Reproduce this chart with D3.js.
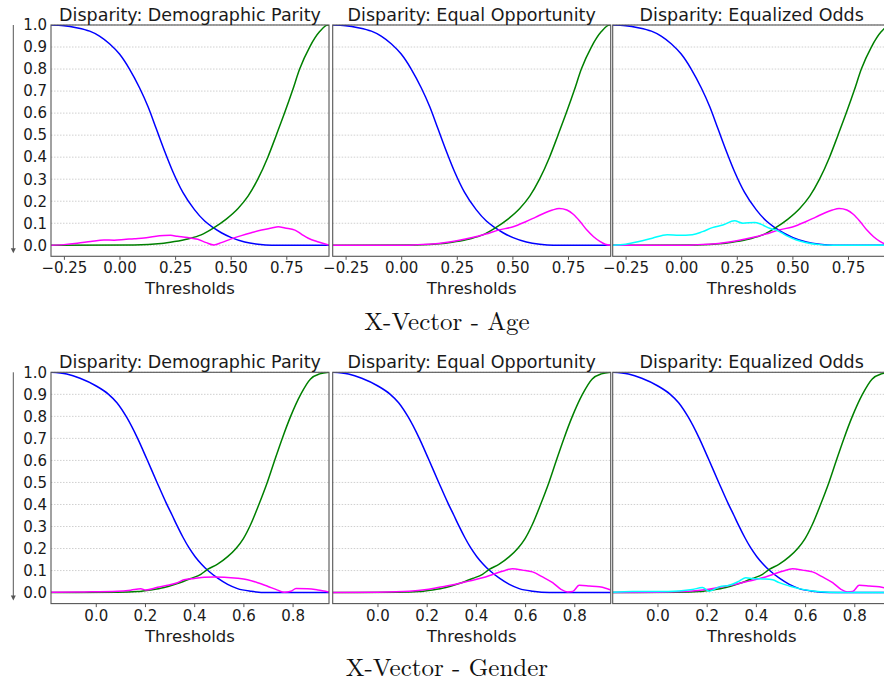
<!DOCTYPE html>
<html>
<head>
<meta charset="utf-8">
<script src="https://cdn.jsdelivr.net/npm/d3@7"></script>
<style>
  body { margin: 0; background: #fff; }
  svg { display: block; font-family: "DejaVu Sans", sans-serif; }
</style>
</head>
<body>
<div id="chart"></div>
<script>
// Panel titles and captions
var titles = ["Disparity: Demographic Parity", "Disparity: Equal Opportunity", "Disparity: Equalized Odds"];
var captions = ["X-Vector - Age", "X-Vector - Gender"];
var yTicks = [0, 0.1, 0.2, 0.3, 0.4, 0.5, 0.6, 0.7, 0.8, 0.9, 1.0];
var ageTicks = [-0.25, 0, 0.25, 0.5, 0.75];
var genderTicks = [0, 0.2, 0.4, 0.6, 0.8];

// Age: [threshold, value]
var ageBlue = [[-0.308,1.0],[-0.25,0.997],[-0.194,0.988],[-0.134,0.972],[-0.09,0.95],[-0.045,0.915],[0.0,0.868],
  [0.045,0.8],[0.09,0.715],[0.128,0.63],[0.165,0.53],[0.203,0.427],[0.24,0.334],[0.285,0.24],[0.337,0.162],
  [0.383,0.11],[0.42,0.081],[0.458,0.057],[0.503,0.035],[0.563,0.015],[0.623,0.0045],[0.684,0.0],[0.942,0.0]];
var ageGreen = [[-0.308,0],[0.066,0.0015],[0.187,0.008],[0.247,0.017],[0.307,0.029],[0.367,0.047],[0.42,0.077],
  [0.48,0.119],[0.533,0.167],[0.578,0.223],[0.622,0.3],[0.667,0.4],[0.705,0.5],[0.742,0.6],[0.777,0.7],
  [0.81,0.8],[0.855,0.9],[0.9,0.97],[0.937,1.0],[0.942,1.0]];
var ageDP = [[-0.308,0],[-0.25,0.003],[-0.19,0.009],[-0.13,0.017],[-0.07,0.024],[-0.024,0.023],[0.02,0.026],
  [0.066,0.03],[0.11,0.033],[0.157,0.04],[0.2,0.044],[0.23,0.045],[0.26,0.041],[0.307,0.035],[0.352,0.027],
  [0.39,0.012],[0.425,0.0015],[0.458,0.012],[0.503,0.029],[0.548,0.044],[0.593,0.057],[0.639,0.069],
  [0.684,0.078],[0.714,0.084],[0.744,0.078],[0.789,0.069],[0.819,0.05],[0.849,0.032],[0.895,0.015],[0.94,0.0015]];
var ageEO = [[-0.308,0],[0.0,0],[0.075,0.003],[0.14,0.006],[0.2,0.013],[0.25,0.021],[0.32,0.035],[0.38,0.051],
  [0.44,0.07],[0.5,0.083],[0.56,0.107],[0.605,0.128],[0.65,0.149],[0.68,0.16],[0.71,0.167],[0.745,0.16],
  [0.775,0.14],[0.805,0.107],[0.835,0.069],[0.865,0.039],[0.895,0.017],[0.917,0.005],[0.942,0.0]];
var ageEOdds = [[-0.308,0],[-0.25,0.005],[-0.19,0.017],[-0.13,0.032],[-0.063,0.048],[-0.01,0.045],[0.05,0.048],
  [0.096,0.062],[0.14,0.08],[0.187,0.092],[0.24,0.111],[0.277,0.1],[0.33,0.104],[0.36,0.095],[0.398,0.077],
  [0.428,0.069],[0.473,0.044],[0.518,0.024],[0.563,0.012],[0.623,0.003],[0.684,0],[0.942,0]];

// Gender
var genderBlue = [[-0.182,1.0],[-0.118,0.992],[-0.064,0.973],[0.0,0.939],[0.052,0.9],[0.086,0.862],[0.126,0.795],
  [0.17,0.7],[0.208,0.605],[0.249,0.5],[0.287,0.405],[0.31,0.352],[0.33,0.305],[0.355,0.25],[0.378,0.205],
  [0.404,0.163],[0.429,0.13],[0.456,0.1],[0.497,0.064],[0.536,0.037],[0.576,0.018],[0.631,0.006],[0.698,0.0],[0.948,0.0]];
var genderGreen = [[-0.182,0],[0.088,0.0015],[0.17,0.0045],[0.224,0.012],[0.278,0.023],[0.332,0.041],[0.386,0.064],
  [0.427,0.083],[0.454,0.105],[0.495,0.129],[0.536,0.163],[0.57,0.2],[0.6,0.245],[0.63,0.31],[0.663,0.4],
  [0.697,0.5],[0.727,0.6],[0.758,0.7],[0.792,0.8],[0.833,0.9],[0.873,0.97],[0.91,0.993],[0.948,1.0]];
var genderDP = [[-0.182,0.0015],[-0.047,0.003],[0.088,0.006],[0.142,0.011],[0.183,0.017],[0.203,0.012],[0.251,0.024],
  [0.292,0.033],[0.332,0.045],[0.359,0.058],[0.4,0.064],[0.441,0.07],[0.481,0.071],[0.522,0.07],[0.576,0.065],
  [0.617,0.058],[0.658,0.045],[0.698,0.029],[0.739,0.011],[0.766,0.0015],[0.793,0.006],[0.814,0.018],
  [0.861,0.017],[0.902,0.012],[0.948,0.003]];
var genderEO = [[-0.182,0],[0.0,0.0015],[0.129,0.006],[0.2,0.014],[0.265,0.027],[0.318,0.038],[0.372,0.052],
  [0.427,0.067],[0.468,0.082],[0.508,0.097],[0.549,0.108],[0.59,0.102],[0.63,0.094],[0.671,0.071],[0.712,0.045],
  [0.746,0.015],[0.773,0.003],[0.793,0.0045],[0.82,0.033],[0.861,0.03],[0.902,0.026],[0.924,0.021],[0.948,0.012]];
var genderEOdds = [[-0.182,0.0015],[-0.102,0.0045],[0.0,0.0045],[0.088,0.0075],[0.142,0.014],[0.183,0.023],
  [0.21,0.006],[0.251,0.026],[0.292,0.033],[0.332,0.052],[0.359,0.067],[0.386,0.064],[0.427,0.062],[0.468,0.058],
  [0.495,0.045],[0.536,0.03],[0.576,0.018],[0.631,0.0075],[0.698,0.0015],[0.766,0],[0.948,0]];

var rows = [
  {caption: captions[0], top: 25, domain: [-0.308, 0.942], ticks: ageTicks, fmt: d3.format(".2f"),
   blue: ageBlue, green: ageGreen, dp: ageDP, eo: ageEO, eodds: ageEOdds, capY: 330},
  {caption: captions[1], top: 372.3, domain: [-0.182, 0.948], ticks: genderTicks, fmt: d3.format(".1f"),
   blue: genderBlue, green: genderGreen, dp: genderDP, eo: genderEO, eodds: genderEOdds, capY: 675.5}
];

var panelX = [51, 332.7, 612.7];
var panelW = 278, panelH = 231.3;
var axisColor = "#555";

var svg = d3.select("#chart").append("svg")
  .attr("width", 884).attr("height", 681);

rows.forEach(function(row, r) {
  var y = d3.scaleLinear().domain([-0.05, 1.0]).range([row.top + panelH, row.top]);

  for (var j = 0; j < 3; j++) {
    var x0 = panelX[j];
    var x = d3.scaleLinear().domain(row.domain).range([x0, x0 + panelW]);
    var g = svg.append("g");
    var clipId = "clip" + r + j;
    g.append("clipPath").attr("id", clipId)
      .append("rect").attr("x", x0).attr("y", row.top).attr("width", panelW).attr("height", panelH);

    // grid
    g.selectAll(".grid").data(yTicks).enter().append("line")
      .attr("x1", x0).attr("x2", x0 + panelW)
      .attr("y1", d => y(d)).attr("y2", d => y(d))
      .attr("stroke", "#bbb").attr("stroke-width", 0.7)
      .attr("stroke-dasharray", "1.5,1.5");

    var line = d3.line()
      .x(d => x(d[0]))
      .y(d => y(d[1]))
      .curve(d3.curveMonotoneX);

    var series = [[row.blue, "#0000ff"], [row.green, "#008000"]];
    if (j == 0) series.push([row.dp, "#ff00ff"]);
    else series.push([row.eo, "#ff00ff"]);
    if (j == 2) series.push([row.eodds, "#00ffff"]);

    series.forEach(function(s) {
      g.append("path")
        .attr("clip-path", "url(#" + clipId + ")")
        .attr("fill", "none")
        .attr("stroke", s[1])
        .attr("stroke-width", 1.5)
        .attr("d", line(s[0]));
    });

    // frame
    g.append("rect")
      .attr("x", x0).attr("y", row.top).attr("width", panelW).attr("height", panelH)
      .attr("fill", "none").attr("stroke", axisColor).attr("stroke-width", 1.1);

    // x axis
    var xa = g.append("g")
      .attr("transform", "translate(0," + (row.top + panelH) + ")")
      .call(d3.axisBottom(x).tickValues(row.ticks).tickSize(3.5).tickPadding(3)
        .tickFormat(d => row.fmt(d).replace("-", "\u2212")));
    xa.select(".domain").remove();
    xa.selectAll("line").attr("stroke", axisColor);
    xa.selectAll("text").attr("font-size", "15px").attr("fill", "#1a1a1a")
      .attr("font-family", "DejaVu Sans");

    g.append("text")
      .attr("x", x0 + panelW / 2).attr("y", row.top + panelH + 38)
      .attr("text-anchor", "middle").attr("font-size", "16.5px").attr("fill", "#1a1a1a")
      .text("Thresholds");

    g.append("text")
      .attr("x", x0 + panelW / 2).attr("y", row.top - 4.5)
      .attr("text-anchor", "middle").attr("font-size", "17.5px").attr("fill", "#1a1a1a")
      .text(titles[j]);

    if (j == 0) {
      var ya = g.append("g")
        .attr("transform", "translate(" + x0 + ",0)")
        .call(d3.axisLeft(y).tickValues(yTicks).tickSize(0).tickPadding(4).tickFormat(d3.format(".1f")));
      ya.select(".domain").remove();
      ya.selectAll("text").attr("font-size", "15px").attr("fill", "#1a1a1a")
        .attr("font-family", "DejaVu Sans");

      // downward arrow on the far left
      var ax = 13.3, ayBot = row.top + panelH - 3;
      g.append("line")
        .attr("x1", ax).attr("x2", ax).attr("y1", row.top).attr("y2", ayBot - 3)
        .attr("stroke", axisColor).attr("stroke-width", 1);
      g.append("path")
        .attr("d", "M" + (ax - 2.5) + "," + (ayBot - 5) + "L" + (ax + 2.5) + "," + (ayBot - 5) + "L" + ax + "," + ayBot + "Z")
        .attr("fill", axisColor);
    }
  }

  svg.append("text")
    .attr("x", 447).attr("y", row.capY)
    .attr("text-anchor", "middle")
    .attr("font-family", "'Latin Modern Roman', 'Liberation Serif', serif")
    .attr("font-size", "25px").attr("fill", "#111")
    .text(row.caption);
});
</script>
</body>
</html>
